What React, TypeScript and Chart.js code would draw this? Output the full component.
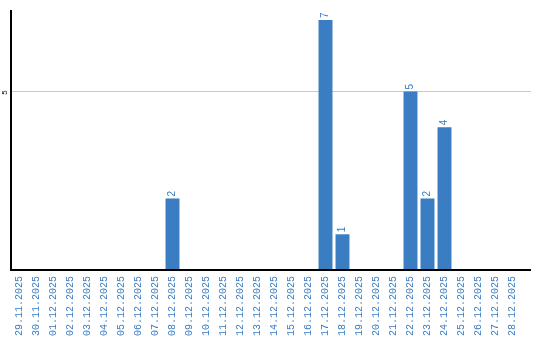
import React, { useEffect, useRef } from "react";
import { Chart, registerables } from "chart.js";

Chart.register(...registerables);

const categories = [
  "29.11.2025", "30.11.2025", "01.12.2025", "02.12.2025", "03.12.2025", "04.12.2025",
  "05.12.2025", "06.12.2025", "07.12.2025", "08.12.2025", "09.12.2025", "10.12.2025",
  "11.12.2025", "12.12.2025", "13.12.2025", "14.12.2025", "15.12.2025", "16.12.2025",
  "17.12.2025", "18.12.2025", "19.12.2025", "20.12.2025", "21.12.2025", "22.12.2025",
  "23.12.2025", "24.12.2025", "25.12.2025", "26.12.2025", "27.12.2025", "28.12.2025",
];
const counts = [
  0, 0, 0, 0, 0, 0,
  0, 0, 0, 2, 0, 0,
  0, 0, 0, 0, 0, 0,
  7, 1, 0, 0, 0, 5,
  2, 4, 0, 0, 0, 0,
];
const yTicks = [5];
const yMax = 7.28;

const BLUE = "#3a7dc2";

const axesPlugin = {
  id: "customAxes",
  beforeDatasetsDraw(chart: any) {
    const { ctx, chartArea, scales } = chart;
    const y = scales.y;
    ctx.save();
    ctx.strokeStyle = "#c8c8c8";
    ctx.lineWidth = 1;
    yTicks.forEach((v) => {
      const py = Math.round(y.getPixelForValue(v)) + 0.5;
      ctx.beginPath();
      ctx.moveTo(chartArea.left, py);
      ctx.lineTo(chartArea.right + 10, py);
      ctx.stroke();
      ctx.save();
      ctx.fillStyle = "#000";
      ctx.font = "8px 'Liberation Sans', Arial, sans-serif";
      ctx.translate(chartArea.left - 6, py + 1);
      ctx.rotate(-Math.PI / 2);
      ctx.textAlign = "center";
      ctx.textBaseline = "middle";
      ctx.fillText(String(v), 0, 0);
      ctx.restore();
    });
    ctx.restore();
  },
  afterDatasetsDraw(chart: any) {
    const { ctx, chartArea } = chart;
    ctx.save();
    ctx.strokeStyle = "#000";
    ctx.lineWidth = 2;
    ctx.beginPath();
    ctx.moveTo(chartArea.left, chartArea.top);
    ctx.lineTo(chartArea.left, chartArea.bottom);
    ctx.lineTo(chartArea.right + 10, chartArea.bottom);
    ctx.stroke();
    const meta = chart.getDatasetMeta(0);
    ctx.fillStyle = BLUE;
    ctx.font = "10px 'Liberation Sans', Arial, sans-serif";
    meta.data.forEach((bar: any, i: number) => {
      const v = counts[i];
      if (!v) return;
      ctx.save();
      ctx.translate(bar.x, bar.y - 2);
      ctx.rotate(-Math.PI / 2);
      ctx.textAlign = "left";
      ctx.textBaseline = "middle";
      ctx.fillText(String(v), 0, 0);
      ctx.restore();
    });
    ctx.restore();
  },
};

export default function App() {
  const ref = useRef<HTMLCanvasElement>(null);
  useEffect(() => {
    document.body.style.margin = "0";
    const chart = new Chart(ref.current as HTMLCanvasElement, {
      type: "bar",
      data: {
        labels: categories,
        datasets: [
          {
            data: counts,
            backgroundColor: BLUE,
            barPercentage: 0.82,
            categoryPercentage: 1,
          },
        ],
      },
      options: {
        animation: false,
        responsive: false,
        layout: { padding: { left: 11, top: 10, right: 19, bottom: 0 } },
        plugins: { legend: { display: false }, tooltip: { enabled: false } },
        scales: {
          x: {
            grid: { display: false, drawTicks: false },
            border: { display: false },
            afterFit: (s: any) => {
              s.height = 70;
            },
            ticks: {
              autoSkip: false,
              minRotation: 90,
              maxRotation: 90,
              padding: 6,
              color: BLUE,
              font: { family: "'Liberation Mono', 'Courier New', monospace", size: 10 },
            },
          },
          y: {
            display: false,
            min: 0,
            max: yMax,
          },
        },
      },
      plugins: [axesPlugin],
    });
    return () => chart.destroy();
  }, []);
  return (
    <div style={{ width: 540, height: 340 }}>
      <canvas ref={ref} width={540} height={340} />
    </div>
  );
}
